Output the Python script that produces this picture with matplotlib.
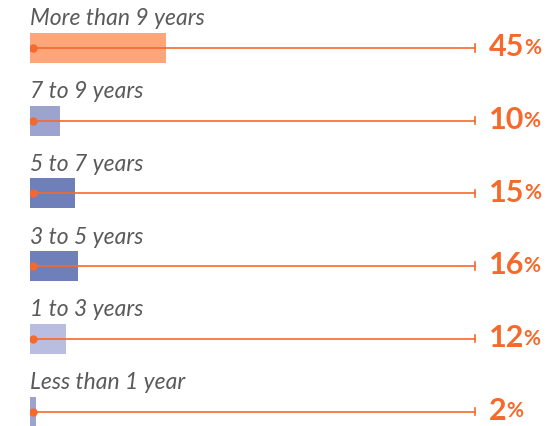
import matplotlib.pyplot as plt

labels = ["More than 9 years", "7 to 9 years", "5 to 7 years",
          "3 to 5 years", "1 to 3 years", "Less than 1 year"]
values = [45, 10, 15, 16, 12, 2]
colors = ["#FFA57A", "#9CA3CF", "#6E7FBA", "#6E7FBA", "#B9BEE0", "#9CA3CF"]

ORANGE = "#F7692B"
LINE_END = 147.4   # in percent units
TEXT_X = 152.0

fig = plt.figure(figsize=(5.56, 4.26), dpi=100)
ax = fig.add_axes([30 / 556, 0, 526 / 556, 1])
ax.set_xlim(0, 526 / 3.02)
ax.set_ylim((426 - 48) / 72.7, -48 / 72.7)
ax.axis("off")

for i, (lab, v, c) in enumerate(zip(labels, values, colors)):
    ax.barh(i, v, height=0.41, color=c, left=0)
    ax.plot([1, LINE_END], [i, i], color=ORANGE, lw=1.2)
    ax.plot([1], [i], "o", color=ORANGE, ms=5)
    ax.plot([LINE_END, LINE_END], [i - 0.05, i + 0.05], color=ORANGE, lw=1.2)
    ax.text(0, i - 0.40, lab, fontsize=16.5, style="italic", family="Lato",
            weight="normal", color="#5a5a5a", va="center", ha="left")
    t = ax.text(TEXT_X, i - 0.01, str(v), fontsize=22, weight="bold",
                family="Lato", color=ORANGE, va="center", ha="left")
    ax.annotate("%", xy=(0.98, 0.12), xycoords=t, fontsize=15, weight="bold",
                family="Lato", color=ORANGE, va="bottom", ha="left")

fig.savefig("out.png", dpi=100)
